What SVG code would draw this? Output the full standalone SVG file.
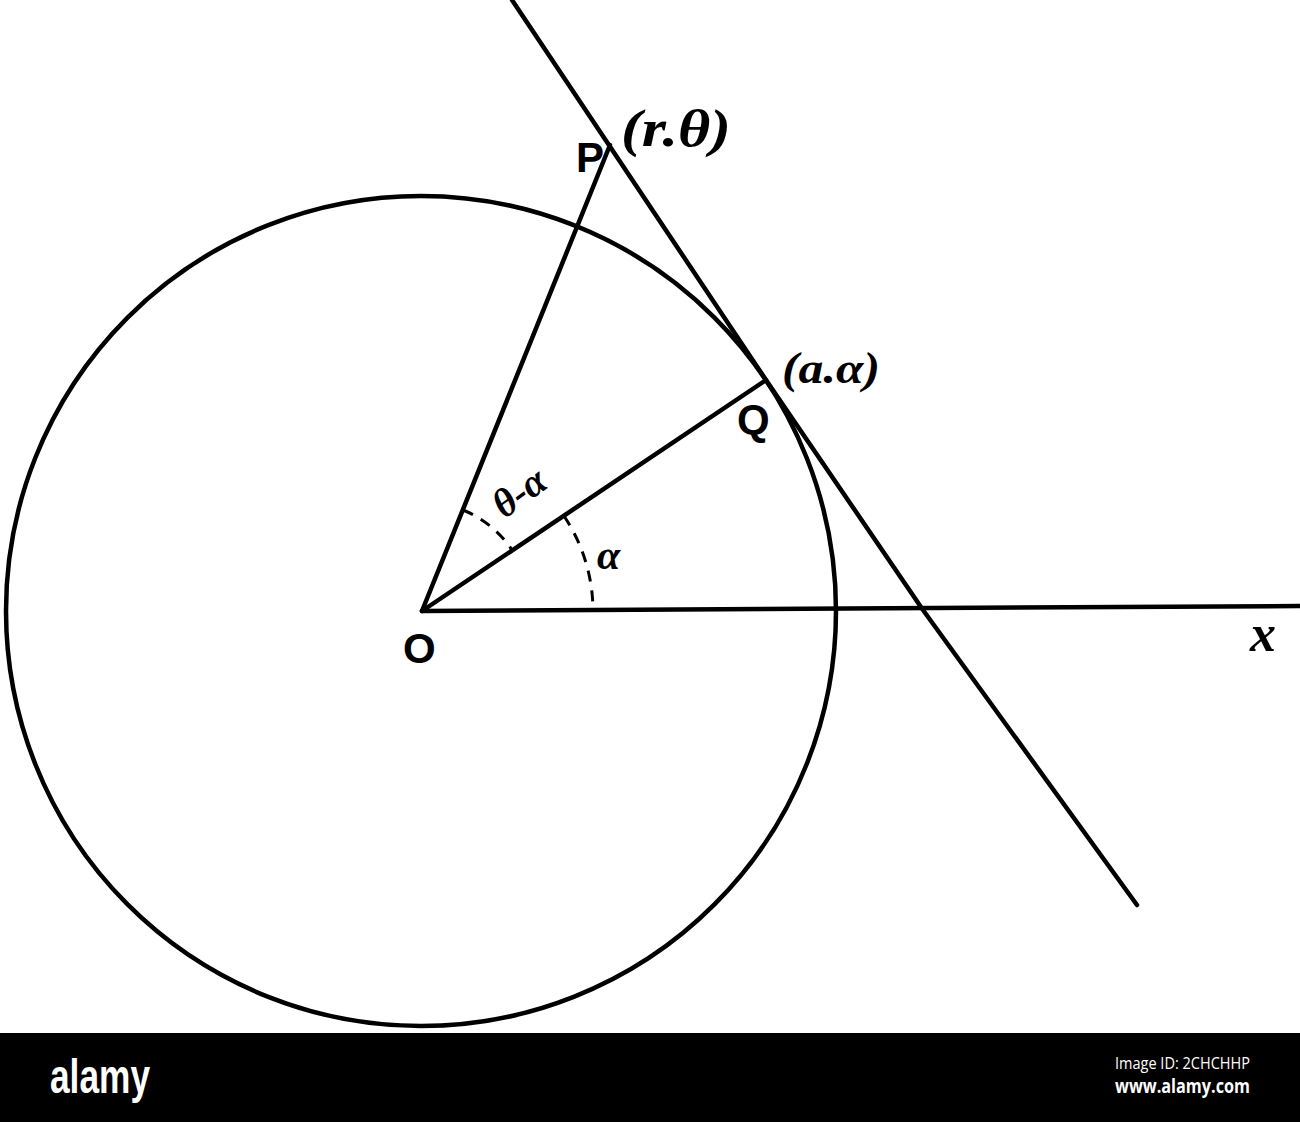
<svg xmlns="http://www.w3.org/2000/svg" width="1300" height="1122" viewBox="0 0 1300 1122">
  <style>
    .ln { fill: none; stroke: #000; stroke-width: 4.5; stroke-linecap: round; stroke-linejoin: round; }
    .dash { fill: none; stroke: #000; stroke-width: 3; stroke-dasharray: 11 9; }
    .lbl { font-family: "Liberation Sans", Arial, sans-serif; font-weight: bold; font-size: 42px; fill: #000; }
    .math { font-family: "Liberation Serif", "Times New Roman", serif; font-style: italic; font-weight: bold; fill: #000; }
    .wm { fill: #fff; }
  </style>
  <rect x="0" y="0" width="1300" height="1122" fill="#fff"/>

  <g id="circle">
    <circle class="ln" cx="421" cy="611" r="415"/>
  </g>

  <g id="connectors">
    <line id="x-axis" class="ln" x1="422" y1="611" x2="1300" y2="606"/>
    <polyline id="tangent" class="ln" points="512,0 766,380 923,610 1137,905"/>
    <line id="OP" class="ln" x1="422" y1="611" x2="610" y2="145"/>
    <line id="OQ" class="ln" x1="422" y1="611" x2="766" y2="380"/>
    <path id="arc-theta-alpha" class="dash" d="M 463 510 A 108 108 0 0 1 512 550"/>
    <path id="arc-alpha" class="dash" d="M 564 516 A 171 171 0 0 1 593 610"/>
  </g>

  <g id="node-P">
    <text class="lbl" x="576" y="172">P</text>
    <text class="math" x="621" y="146" font-size="52" textLength="110" lengthAdjust="spacingAndGlyphs">(r.θ)</text>
  </g>

  <g id="node-Q">
    <text class="lbl" x="737" y="434">Q</text>
    <text class="math" x="782" y="383" font-size="44" textLength="98" lengthAdjust="spacingAndGlyphs">(a.α)</text>
  </g>

  <g id="node-O">
    <text class="lbl" x="403" y="663">O</text>
  </g>

  <g id="angle-labels">
    <text class="math" font-size="40" text-anchor="middle" transform="translate(527,503) rotate(-36)">θ-α</text>
    <text class="math" x="597" y="569" font-size="42">α</text>
    <text class="math" x="1250" y="651" font-size="52">x</text>
  </g>

  <g id="watermark">
    <rect x="0" y="1033" width="1300" height="89" fill="#000"/>
    <text class="wm" x="50" y="1093" font-family="Liberation Sans, Arial, sans-serif" font-weight="bold" font-size="48" textLength="100" lengthAdjust="spacingAndGlyphs">alamy</text>
    <text class="wm" x="1115" y="1069" font-family="Open Sans, Liberation Sans, sans-serif" font-size="16" textLength="135" lengthAdjust="spacingAndGlyphs">Image ID: 2CHCHHP</text>
    <text class="wm" x="1115" y="1093" font-family="Open Sans, Liberation Sans, sans-serif" font-weight="bold" font-size="19" textLength="135" lengthAdjust="spacingAndGlyphs">www.alamy.com</text>
  </g>
</svg>
